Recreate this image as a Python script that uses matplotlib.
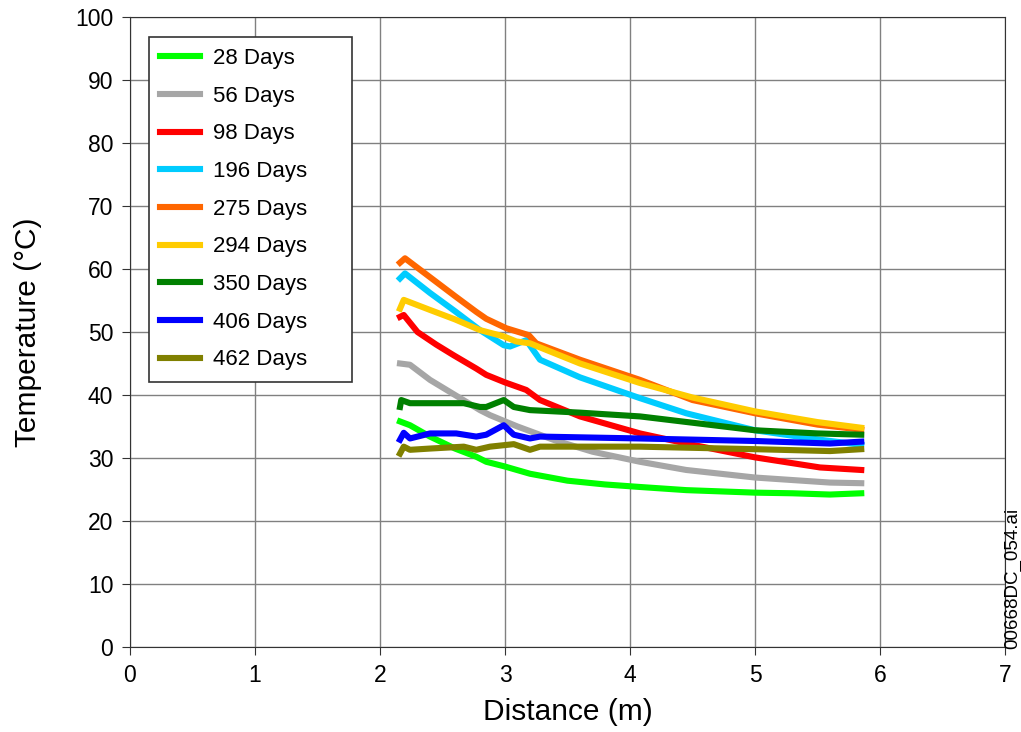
import matplotlib
matplotlib.use("Agg")
import matplotlib.pyplot as plt

# Données

labels = ["28 Days", "56 Days", "98 Days", "196 Days", "275 Days",
          "294 Days", "350 Days", "406 Days", "462 Days"]
couleurs = ["#00ff00", "#a6a6a6", "#ff0000", "#00ccff", "#ff6600",
            "#ffcc00", "#008000", "#0000ff", "#808000"]

x_28 = [2.16, 2.24, 2.4, 2.6, 2.77, 2.85, 2.99, 3.2, 3.5, 3.8, 4.08, 4.45, 5.0, 5.3, 5.6, 5.85]
y_28 = [35.8, 35.2, 33.4, 31.5, 30.2, 29.4, 28.7, 27.5, 26.4, 25.8, 25.4, 24.9, 24.5, 24.4, 24.2, 24.4]

x_56 = [2.16, 2.24, 2.4, 2.6, 2.8, 2.88, 3.1, 3.4, 3.7, 4.08, 4.45, 5.0, 5.3, 5.6, 5.85]
y_56 = [45.0, 44.8, 42.4, 40.0, 37.6, 36.8, 35.0, 32.8, 31.0, 29.4, 28.1, 26.9, 26.5, 26.1, 26.0]

x_98 = [2.16, 2.19, 2.3, 2.45, 2.59, 2.77, 2.85, 3.0, 3.17, 3.28, 3.6, 4.08, 4.45, 5.0, 5.52, 5.85]
y_98 = [52.4, 52.7, 50.0, 48.0, 46.3, 44.2, 43.2, 42.0, 40.8, 39.2, 36.6, 33.9, 32.3, 30.1, 28.5, 28.1]

x_196 = [2.16, 2.2, 2.4, 2.6, 2.8, 2.99, 3.04, 3.17, 3.28, 3.6, 4.08, 4.45, 5.0, 5.52, 5.85]
y_196 = [58.5, 59.3, 56.2, 53.3, 50.3, 47.9, 47.7, 48.7, 45.6, 42.8, 39.5, 37.1, 34.4, 32.9, 32.1]

x_275 = [2.16, 2.2, 2.4, 2.6, 2.77, 2.85, 3.01, 3.19, 3.25, 3.6, 4.08, 4.5, 5.0, 5.5, 5.85]
y_275 = [61.0, 61.7, 58.7, 55.7, 53.2, 52.1, 50.6, 49.5, 48.2, 45.6, 42.4, 39.2, 37.1, 35.3, 34.5]

x_294 = [2.16, 2.19, 2.4, 2.6, 2.8, 2.99, 3.09, 3.2, 3.6, 4.08, 4.5, 5.0, 5.5, 5.85]
y_294 = [53.7, 55.1, 53.5, 52.0, 50.3, 49.3, 48.5, 48.2, 45.0, 41.9, 39.6, 37.4, 35.7, 34.8]

x_350 = [2.16, 2.17, 2.24, 2.53, 2.67, 2.8, 2.85, 2.99, 3.07, 3.2, 3.6, 4.08, 4.5, 5.0, 5.5, 5.85]
y_350 = [38.1, 39.2, 38.7, 38.7, 38.7, 38.1, 38.1, 39.2, 38.1, 37.6, 37.2, 36.6, 35.6, 34.4, 33.9, 33.7]

x_406 = [2.16, 2.19, 2.24, 2.4, 2.61, 2.77, 2.85, 2.99, 3.07, 3.2, 3.28, 4.08, 5.0, 5.6, 5.85]
y_406 = [32.9, 34.0, 33.1, 33.9, 33.9, 33.4, 33.7, 35.2, 33.7, 33.1, 33.4, 33.1, 32.7, 32.3, 32.6]

x_462 = [2.16, 2.19, 2.24, 2.4, 2.67, 2.77, 2.88, 3.07, 3.2, 3.28, 4.08, 5.0, 5.6, 5.85]
y_462 = [30.7, 31.8, 31.3, 31.5, 31.8, 31.3, 31.8, 32.2, 31.3, 31.8, 31.8, 31.4, 31.1, 31.4]

series_x = [x_28, x_56, x_98, x_196, x_275, x_294, x_350, x_406, x_462]
series_y = [y_28, y_56, y_98, y_196, y_275, y_294, y_350, y_406, y_462]

# Dessin

plt.rcParams["font.family"] = ["Liberation Sans", "DejaVu Sans"]

fig = plt.figure(figsize=(10.21, 7.32), dpi=100)
ax = fig.add_axes([130 / 1021, 1 - 647 / 732, 875 / 1021, 630 / 732])

for xs, ys, c, lab in zip(series_x, series_y, couleurs, labels):
    ax.plot(xs, ys, color=c, lw=4.4, label=lab)

ax.set_xlim(0, 7)
ax.set_ylim(0, 100)
ax.set_xticks(range(0, 8))
ax.set_yticks(range(0, 101, 10))
ax.grid(True, color="#808080", lw=1)
ax.set_axisbelow(True)
ax.tick_params(labelsize=16.5, length=6, pad=6, color="#333333")
for s in ax.spines.values():
    s.set_color("#333333")

ax.set_xlabel("Distance (m)", fontsize=21.5, labelpad=8)
ax.set_ylabel("Temperature (°C)", fontsize=21.5, labelpad=24)

# cadre de légende un peu plus large que le texte, comme l'original
haut = 1 - 20 / 630
leg = ax.legend(loc="upper left",
                bbox_to_anchor=(19 / 875, haut - 0.01, 203 / 875, 0.01),
                mode="expand", borderaxespad=0,
                fontsize=16, frameon=True, fancybox=False, edgecolor="#333333",
                framealpha=1, labelspacing=0.75, handlelength=1.8,
                handletextpad=0.6, borderpad=0.5)
leg.get_frame().set_linewidth(1.2)

fig.text(1013 / 1021, 1 - 578 / 732, "00668DC_054.ai", rotation=90, fontsize=13.5,
         ha="center", va="center")

fig.savefig("out.png", dpi=100)
